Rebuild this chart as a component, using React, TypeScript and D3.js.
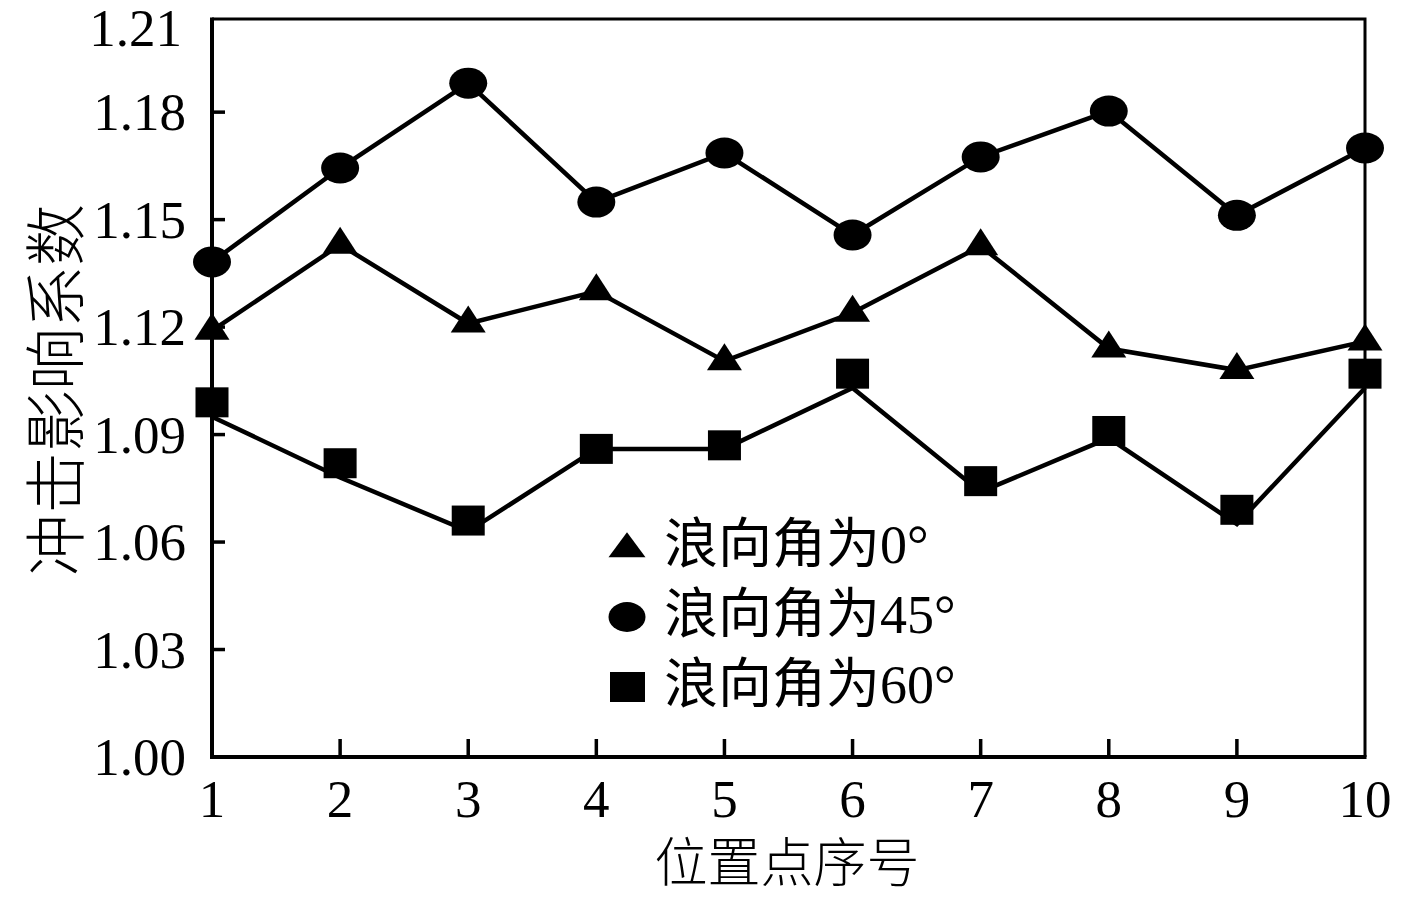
import React from "react";
import * as d3 from "d3";

// position index on x axis
const points = [1, 2, 3, 4, 5, 6, 7, 8, 9, 10];

// wave angle 0°
const angle0 = [1.119, 1.143, 1.121, 1.13, 1.1105, 1.124, 1.1426, 1.114, 1.108, 1.116];
// wave angle 45°
const angle45 = [1.1382, 1.1644, 1.1881, 1.1549, 1.1686, 1.1457, 1.1675, 1.1803, 1.1512, 1.17];
// wave angle 60° (markers and polyline do not quite coincide in the source figure)
const angle60 = [1.099, 1.082, 1.066, 1.086, 1.087, 1.107, 1.077, 1.091, 1.069, 1.107];
const angle60Line = [1.095, 1.078, 1.063, 1.086, 1.086, 1.103, 1.074, 1.089, 1.065, 1.103];

const yTicks = [1.0, 1.03, 1.06, 1.09, 1.12, 1.15, 1.18];
const yTopLabel = "1.21";
const legendLabels = ["浪向角为0°", "浪向角为45°", "浪向角为60°"];

const width = 1417;
const height = 898;
const margin = { top: 19, right: 52, bottom: 141, left: 212 };
const yMax = 1.206;

const serif = "'Liberation Serif', 'Times New Roman', 'Noto Sans CJK SC', serif";

const App = () => {
  const x = d3
    .scaleLinear()
    .domain([1, 10])
    .range([margin.left, width - margin.right]);
  const y = d3
    .scaleLinear()
    .domain([1.0, yMax])
    .range([height - margin.bottom, margin.top]);

  const line = d3
    .line<number>()
    .x((_, i) => x(points[i]))
    .y((d) => y(d));

  const tri = (cx: number, cy: number, w = 35, h = 27) =>
    `M${cx},${cy - (2 * h) / 3}L${cx + w / 2},${cy + h / 3}L${cx - w / 2},${cy + h / 3}Z`;

  const x0 = x(1);
  const x1 = x(10);
  const yb = y(1.0);
  const yt = y(yMax);

  return (
    <svg
      width={width}
      height={height}
      style={{ position: "absolute", left: 0, top: 0, background: "#fff" }}
      fontFamily={serif}
    >
      {/* frame */}
      <path d={`M${x0},${yt}H${x1}V${yb}`} fill="none" stroke="#000" strokeWidth={3} />
      <line x1={x0} x2={x0} y1={yt - 1.5} y2={yb + 2} stroke="#000" strokeWidth={4} />
      <line x1={x0 - 2} x2={x1 + 1.5} y1={yb} y2={yb} stroke="#000" strokeWidth={4} />

      {/* y ticks */}
      {yTicks.map((t) => (
        <g key={t}>
          {t > 1.0 && <line x1={x0} x2={x0 + 13} y1={y(t)} y2={y(t)} stroke="#000" strokeWidth={3.5} />}
          <text x={186} y={y(t)} textAnchor="end" dominantBaseline="central" fontSize={53}>
            {t.toFixed(2)}
          </text>
        </g>
      ))}
      <text x={182} y={yt + 9} textAnchor="end" dominantBaseline="central" fontSize={53}>
        {yTopLabel}
      </text>

      {/* x ticks */}
      {points.map((p) => (
        <g key={p}>
          {p > 1 && p < 10 && (
            <line x1={x(p)} x2={x(p)} y1={yb} y2={yb - 18} stroke="#000" strokeWidth={3.5} />
          )}
          <text x={x(p)} y={817} textAnchor="middle" fontSize={53}>
            {p}
          </text>
        </g>
      ))}

      {/* axis titles */}
      <text x={787} y={882} textAnchor="middle" fontSize={53} fontFamily="'Noto Sans CJK SC'" fontWeight={300}>
        位置点序号
      </text>
      <text
        transform="translate(52,390) rotate(-90)"
        textAnchor="middle"
        dominantBaseline="central"
        fontSize={62}
        fontFamily="'Noto Sans CJK SC'"
        fontWeight={300}
      >
        冲击影响系数
      </text>

      {/* lines */}
      <path d={line(angle45) ?? ""} fill="none" stroke="#000" strokeWidth={4.5} />
      <path d={line(angle0) ?? ""} fill="none" stroke="#000" strokeWidth={4.5} />
      <path d={line(angle60Line) ?? ""} fill="none" stroke="#000" strokeWidth={4.5} />

      {/* markers */}
      {angle45.map((v, i) => (
        <ellipse key={`c${i}`} cx={x(points[i])} cy={y(v)} rx={19} ry={15.5} fill="#000" />
      ))}
      {angle0.map((v, i) => (
        <path key={`t${i}`} d={tri(x(points[i]), y(v))} fill="#000" />
      ))}
      {angle60.map((v, i) => (
        <rect key={`s${i}`} x={x(points[i]) - 16.5} y={y(v) - 15} width={33} height={30} fill="#000" />
      ))}

      {/* legend */}
      {legendLabels.map((lab, i) => {
        const cy = 545 + i * 70;
        return (
          <g key={lab}>
            {i === 0 && <path d={tri(627, cy + 4, 37, 25)} fill="#000" />}
            {i === 1 && <ellipse cx={627} cy={cy + 2} rx={18.5} ry={15} fill="#000" />}
            {i === 2 && <rect x={610} y={cy - 13} width={35} height={30} fill="#000" />}
            <text x={664} y={cy} dominantBaseline="central" fontSize={54}>
              {lab}
            </text>
          </g>
        );
      })}
    </svg>
  );
};

export default App;
